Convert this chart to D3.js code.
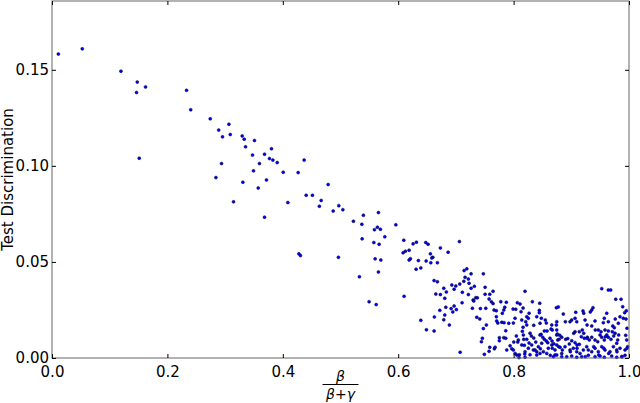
<!DOCTYPE html>
<html>
<head>
<meta charset="utf-8">
<script src="https://cdn.jsdelivr.net/npm/d3@7"></script>
<style>
  body { margin: 0; background: #fff; }
  text { font-family: "DejaVu Sans", sans-serif; }
</style>
</head>
<body>
<div id="chart"></div>
<script>
// tick labels
const xTicks = [0.0, 0.2, 0.4, 0.6, 0.8, 1.0];
const yTicks = [0.00, 0.05, 0.10, 0.15];

// sparse upper-left points: [beta/(beta+gamma), discrimination]
const upperPoints = [
  [0.011, 0.1582], [0.0525, 0.1609], [0.1195, 0.1493], [0.1478, 0.1436], [0.1465, 0.1382],
  [0.1621, 0.1411], [0.1512, 0.1040], [0.2332, 0.1393], [0.2404, 0.1292], [0.2742, 0.1245],
  [0.2889, 0.1186], [0.2841, 0.0939], [0.3066, 0.1217], [0.2955, 0.1151], [0.3089, 0.1163],
  [0.3296, 0.1156], [0.3331, 0.1139], [0.3509, 0.1132], [0.3354, 0.1099], [0.3804, 0.1089],
  [0.3475, 0.1056], [0.3683, 0.1061], [0.3769, 0.1038], [0.3828, 0.1030], [0.3903, 0.1017],
  [0.4370, 0.1030], [0.2938, 0.1012], [0.3596, 0.1012], [0.3492, 0.0974], [0.4007, 0.0967],
  [0.4266, 0.0965], [0.3717, 0.0927], [0.3308, 0.0915], [0.4786, 0.0903], [0.3574, 0.0885],
  [0.4405, 0.0847], [0.4514, 0.0847], [0.4665, 0.0820], [0.3146, 0.0813], [0.4088, 0.0809],
  [0.4634, 0.0790], [0.4971, 0.0793], [0.5041, 0.0772], [0.4873, 0.0765], [0.5397, 0.0743],
  [0.5657, 0.0757], [0.3683, 0.0733], [0.5224, 0.0712], [0.5370, 0.0696], [0.5640, 0.0681],
  [0.5692, 0.0670], [0.5588, 0.0668], [0.5375, 0.0620], [0.5768, 0.0631], [0.5959, 0.0693],
  [0.5578, 0.0601], [0.5669, 0.0592], [0.6097, 0.0613], [0.6316, 0.0603], [0.6258, 0.0594],
  [0.6478, 0.0601], [0.6518, 0.0592], [0.7061, 0.0606], [0.6731, 0.0573], [0.6865, 0.0551],
  [0.6189, 0.0561], [0.6125, 0.0556], [0.6085, 0.0548], [0.4279, 0.0542], [0.4306, 0.0533],
  [0.4964, 0.0524], [0.6558, 0.0542], [0.6600, 0.0524], [0.6582, 0.0521], [0.6212, 0.0517],
  [0.6189, 0.0510], [0.5600, 0.0516], [0.5699, 0.0510], [0.6350, 0.0507], [0.6484, 0.0505],
  [0.6565, 0.0496], [0.6679, 0.0496], [0.6392, 0.0469], [0.6310, 0.0462], [0.5657, 0.0448],
  [0.5328, 0.0423]
];

// middle band, x about 0.6 to 0.8
const midPoints = [
  [0.7142, 0.0455], [0.7189, 0.0464], [0.7263, 0.0438], [0.7476, 0.0438], [0.7159, 0.0420],
  [0.7216, 0.0411], [0.7137, 0.0399], [0.6622, 0.0403], [0.6679, 0.0397], [0.7067, 0.0385],
  [0.6998, 0.0375], [0.6929, 0.0380], [0.7228, 0.0389], [0.7320, 0.0373], [0.7263, 0.0363],
  [0.7506, 0.0368], [0.6790, 0.0363], [0.6969, 0.0358], [0.6835, 0.0344], [0.7112, 0.0342],
  [0.6652, 0.0333], [0.6731, 0.0330], [0.7216, 0.0330], [0.7506, 0.0332], [0.6807, 0.0311],
  [0.7344, 0.0314], [0.7372, 0.0313], [0.7298, 0.0302], [0.7310, 0.0297], [0.7575, 0.0307],
  [0.6102, 0.0321], [0.7107, 0.0288], [0.5496, 0.0293], [0.5618, 0.0278], [0.6969, 0.0271],
  [0.6917, 0.0257], [0.7008, 0.0252], [0.6825, 0.0264], [0.6721, 0.0248], [0.6946, 0.0240],
  [0.7286, 0.0259], [0.7424, 0.0257], [0.7518, 0.0259], [0.6807, 0.0224], [0.6627, 0.0214],
  [0.6790, 0.0199], [0.7362, 0.0212], [0.7414, 0.0203], [0.6392, 0.0196], [0.6887, 0.0172],
  [0.7528, 0.0172], [0.7476, 0.0153], [0.6489, 0.0147], [0.6622, 0.0141], [0.7459, 0.0103],
  [0.7442, 0.0085], [0.7073, 0.0030], [0.7493, 0.0019], [0.7575, 0.0035], [0.7587, 0.0332],
  [0.7644, 0.0347], [0.7615, 0.0293], [0.7644, 0.0283], [0.7661, 0.0250], [0.7701, 0.0246],
  [0.7778, 0.0293], [0.7874, 0.0290], [0.7847, 0.0264], [0.7830, 0.0250], [0.7805, 0.0233],
  [0.7701, 0.0215], [0.7795, 0.0186], [0.7835, 0.0184], [0.7726, 0.0182], [0.7916, 0.0181],
  [0.7996, 0.0182], [0.7864, 0.0142], [0.7753, 0.0106], [0.7753, 0.0090], [0.7830, 0.0106],
  [0.7864, 0.0103], [0.7881, 0.0042], [0.7968, 0.0048], [0.7996, 0.0042], [0.7587, 0.0056],
  [0.7667, 0.0048], [0.7707, 0.0193], [0.7679, 0.0056], [0.7939, 0.0064]
];

// dense lower-right cloud, x about 0.8 to 1.0
const densePoints = [
  [0.8198, 0.0347], [0.8325, 0.0293], [0.8453, 0.0285], [0.8065, 0.0288], [0.8112, 0.0281],
  [0.7991, 0.0255], [0.8037, 0.0254], [0.8164, 0.0260], [0.8129, 0.0241], [0.8268, 0.0233],
  [0.8446, 0.0248], [0.8446, 0.0236], [0.8025, 0.0207], [0.8141, 0.0198], [0.8211, 0.0189],
  [0.8228, 0.0215], [0.8256, 0.0207], [0.8401, 0.0215], [0.8481, 0.0207], [0.8550, 0.0198],
  [0.8567, 0.0182], [0.8164, 0.0160], [0.8152, 0.0139], [0.8349, 0.0170], [0.8533, 0.0141],
  [0.8580, 0.0141], [0.8649, 0.0151], [0.8476, 0.0123], [0.8775, 0.0266], [0.8671, 0.0146],
  [0.8048, 0.0115], [0.8082, 0.0094], [0.8003, 0.0083], [0.8072, 0.0083], [0.8176, 0.0097],
  [0.8228, 0.0097], [0.8186, 0.0066], [0.8308, 0.0115], [0.8349, 0.0104], [0.8268, 0.0078],
  [0.8384, 0.0083], [0.8429, 0.0059], [0.8464, 0.0048], [0.8505, 0.0108], [0.8533, 0.0097],
  [0.8567, 0.0089], [0.8592, 0.0080], [0.8631, 0.0103], [0.8666, 0.0089], [0.8696, 0.0074],
  [0.8671, 0.0051], [0.8748, 0.0120], [0.8765, 0.0094], [0.8782, 0.0059], [0.8025, 0.0024],
  [0.8100, 0.0017], [0.8193, 0.0021], [0.8285, 0.0017], [0.8343, 0.0042], [0.8401, 0.0033],
  [0.8458, 0.0024], [0.8516, 0.0033], [0.8574, 0.0024], [0.8636, 0.0014], [0.8718, 0.0016],
  [0.8094, 0.0002], [0.8198, 0.0004], [0.8141, 0.0068], [0.8198, 0.0033], [0.8256, 0.0051],
  [0.8314, 0.0068], [0.8372, 0.0042], [0.8487, 0.0077], [0.8602, 0.0051], [0.8661, 0.0068],
  [0.8718, 0.0042], [0.8834, 0.0024], [0.8054, 0.0016], [0.8401, 0.0016], [0.8689, 0.0007],
  [0.8169, 0.0120], [0.8285, 0.0129], [0.8458, 0.0120], [0.8748, 0.0146], [0.8228, 0.0172],
  [0.8458, 0.0181], [0.8661, 0.0172], [0.8748, 0.0189],
  [0.9527, 0.0361], [0.9642, 0.0354], [0.9683, 0.0354], [0.9770, 0.0306], [0.9862, 0.0306],
  [0.9891, 0.0267], [0.9925, 0.0236], [0.9953, 0.0246], [0.9901, 0.0207], [0.9948, 0.0203],
  [0.8741, 0.0262], [0.8862, 0.0229], [0.9077, 0.0238], [0.9203, 0.0245], [0.9215, 0.0233],
  [0.9354, 0.0250], [0.9376, 0.0262], [0.9329, 0.0240], [0.9614, 0.0233], [0.9572, 0.0207],
  [0.9642, 0.0189], [0.9844, 0.0215], [0.9815, 0.0181], [0.9007, 0.0198], [0.9065, 0.0207],
  [0.9094, 0.0189], [0.8978, 0.0189], [0.9238, 0.0198], [0.9411, 0.0193], [0.9555, 0.0184],
  [0.8741, 0.0172], [0.9191, 0.0146], [0.9139, 0.0137], [0.9065, 0.0137], [0.9354, 0.0167],
  [0.9468, 0.0146], [0.9515, 0.0137], [0.9584, 0.0146], [0.9642, 0.0141], [0.9718, 0.0167],
  [0.9745, 0.0158], [0.9711, 0.0137], [0.9758, 0.0129], [0.8758, 0.0125], [0.8800, 0.0118],
  [0.8834, 0.0108], [0.8788, 0.0097], [0.8903, 0.0097], [0.8938, 0.0101], [0.9007, 0.0090],
  [0.8966, 0.0073], [0.9065, 0.0080], [0.9099, 0.0068], [0.9139, 0.0071], [0.9174, 0.0111],
  [0.9226, 0.0103], [0.9278, 0.0108], [0.9312, 0.0094], [0.9354, 0.0108], [0.9411, 0.0094],
  [0.9458, 0.0085], [0.9498, 0.0120], [0.9527, 0.0108], [0.9572, 0.0094], [0.9614, 0.0120],
  [0.9642, 0.0108], [0.9688, 0.0097], [0.9735, 0.0115], [0.9804, 0.0094], [0.9787, 0.0077],
  [0.9943, 0.0118], [0.9960, 0.0094], [0.8748, 0.0068], [0.8805, 0.0056], [0.8845, 0.0042],
  [0.8891, 0.0059], [0.8978, 0.0042], [0.9035, 0.0051], [0.9094, 0.0033], [0.9151, 0.0024],
  [0.9209, 0.0042], [0.9267, 0.0059], [0.9295, 0.0042], [0.9354, 0.0033], [0.9411, 0.0051],
  [0.9468, 0.0033], [0.9527, 0.0059], [0.9584, 0.0042], [0.9671, 0.0033], [0.9729, 0.0059],
  [0.9787, 0.0042], [0.9844, 0.0051], [0.9931, 0.0042], [0.9977, 0.0059], [0.8748, 0.0016],
  [0.8834, 0.0007], [0.8921, 0.0007], [0.9007, 0.0010], [0.9094, 0.0004], [0.9180, 0.0007],
  [0.9295, 0.0014], [0.9411, 0.0007], [0.9498, 0.0010], [0.9572, 0.0004], [0.9700, 0.0010],
  [0.9787, 0.0004], [0.9874, 0.0007], [0.9931, 0.0014], [0.8983, 0.0033], [0.9099, 0.0051],
  [0.9243, 0.0007], [0.9388, 0.0059], [0.9475, 0.0016], [0.9562, 0.0051], [0.9648, 0.0024],
  [0.9792, 0.0033], [0.9879, 0.0007], [0.9965, 0.0051], [0.9042, 0.0129], [0.9215, 0.0129],
  [0.9273, 0.0103], [0.9416, 0.0146], [0.9590, 0.0111], [0.9821, 0.0120], [0.9762, 0.0203],
  [0.9965, 0.0155], [0.9273, 0.0172], [0.8897, 0.0189]
];

const width = 640, height = 403;
const margin = { top: 1, right: 11, bottom: 45, left: 52 };

const svg = d3.select("#chart").append("svg")
    .attr("width", width)
    .attr("height", height);

const x = d3.scaleLinear().domain([0, 1]).range([margin.left, width - margin.right]);
const y = d3.scaleLinear().domain([0, 0.1858]).range([height - margin.bottom, margin.top]);

const plotW = x(1) - x(0), plotH = y(0) - y(0.1858);

// points
const allPoints = upperPoints.concat(midPoints, densePoints);
svg.append("g")
  .selectAll("circle")
  .data(allPoints)
  .join("circle")
    .attr("cx", d => x(d[0]))
    .attr("cy", d => y(d[1]))
    .attr("r", 1.5)
    .attr("fill", "#0000ff")
    .attr("stroke", "#000033")
    .attr("stroke-width", 0.5);

// frame
svg.append("rect")
    .attr("x", x(0))
    .attr("y", y(0.1858))
    .attr("width", plotW)
    .attr("height", plotH)
    .attr("fill", "none")
    .attr("stroke", "#666")
    .attr("stroke-width", 1);

// axes with inward ticks (matplotlib classic style)
svg.append("g")
    .attr("transform", `translate(0,${y(0)})`)
    .call(d3.axisBottom(x).tickValues(xTicks).tickFormat(d3.format(".1f")).tickSize(-4).tickPadding(8));
svg.append("g")
    .attr("transform", `translate(${x(0)},0)`)
    .call(d3.axisLeft(y).tickValues(yTicks).tickFormat(d3.format(".2f")).tickSize(-4).tickPadding(3));
// ticks on top and right too
svg.append("g")
    .attr("transform", `translate(0,${y(0.1858)})`)
    .call(d3.axisTop(x).tickValues(xTicks).tickFormat("").tickSize(-4));
svg.append("g")
    .attr("transform", `translate(${x(1)},0)`)
    .call(d3.axisRight(y).tickValues(yTicks).tickFormat("").tickSize(-4));

svg.selectAll(".domain").remove();
svg.selectAll(".tick line").attr("stroke", "#000");
svg.selectAll(".tick text")
    .attr("fill", "#000")
    .style("font-size", "15px")
    .style("font-family", "DejaVu Sans");

// y axis label
svg.append("text")
    .attr("transform", `translate(13,${(y(0) + y(0.1858)) / 2}) rotate(-90)`)
    .attr("text-anchor", "middle")
    .style("font-size", "15px")
    .text("Test Discrimination");

// x axis label: beta / (beta + gamma)
const fx = (x(0.4) + x(0.6)) / 2;
svg.append("text")
    .attr("x", fx)
    .attr("y", 381)
    .attr("text-anchor", "middle")
    .style("font-size", "14px")
    .style("font-style", "italic")
    .text("β");
svg.append("line")
    .attr("x1", fx - 18).attr("x2", fx + 18)
    .attr("y1", 384.5).attr("y2", 384.5)
    .attr("stroke", "#000")
    .attr("stroke-width", 1);
svg.append("text")
    .attr("x", fx)
    .attr("y", 398.5)
    .attr("text-anchor", "middle")
    .style("font-size", "14px")
    .style("font-style", "italic")
    .html("β<tspan font-style='normal'>+</tspan>γ");
</script>
</body>
</html>
